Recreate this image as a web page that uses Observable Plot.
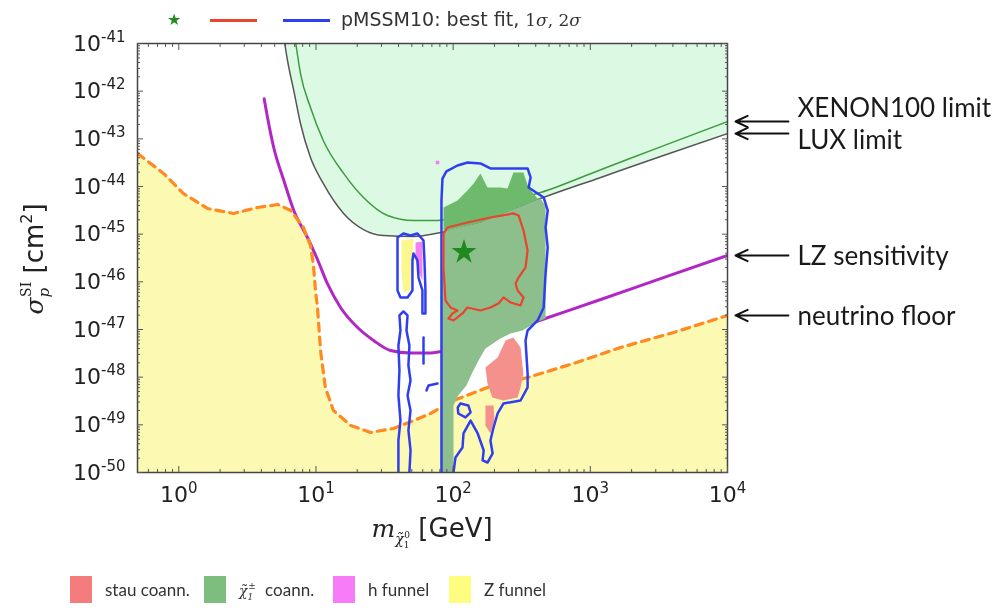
<!DOCTYPE html>
<html><head><meta charset="utf-8">
<script src="https://cdn.jsdelivr.net/npm/d3@7"></script>
<script src="https://cdn.jsdelivr.net/npm/@observablehq/plot@0.6"></script>
<style>
body{margin:0;background:#fff;}
#wrap{position:relative;width:998px;height:608px;overflow:hidden;background:#fff}
#top{position:relative;height:35px}
#chart{height:520px}
#bottom{position:relative;height:53px}
.abs{position:absolute}
.ln{position:absolute;height:3px}
.lt{position:absolute;font-family:"DejaVu Sans";font-size:19px;color:#333;white-space:nowrap;line-height:19px}
.serif{font-family:"DejaVu Serif"}
.sw{position:absolute;width:22px;height:27px;top:21px}
.lg{position:absolute;top:24px;font-family:Lato;font-size:17px;color:#333;white-space:nowrap;line-height:22px}
</style></head><body>
<div id="wrap"><div id="top"></div><div id="chart"></div><div id="bottom"></div></div>
<script>
// ---------------- data ----------------
const xDomain = [0.5, 1e4];
const yDomain = [1e-50, 1e-41];
const xMajor = [1, 10, 100, 1000, 10000];
const yMajor = [1e-50,1e-49,1e-48,1e-47,1e-46,1e-45,1e-44,1e-43,1e-42,1e-41];

// LUX limit (grey)
const luxMass  = [5.92, 6.20, 6.89, 7.71, 9.12, 11.3, 15.9, 22.2, 31.1, 51.4, 80.9, 158, 434, 1190, 3250, 10000];
const luxSigma = [1e-41, 4.40e-42, 1.03e-42, 2.10e-43, 4.06e-44, 1.16e-44, 2.72e-45, 1.25e-45, 9.38e-46, 8.93e-46, 1.08e-45, 1.76e-45, 5.60e-45, 1.55e-44, 4.27e-44, 1.29e-43];
// XENON100 limit (green)
const xenonMass  = [7.13, 7.71, 9.12, 11.3, 15.9, 22.2, 33.2, 51.4, 76.9, 158, 434, 1190, 3250, 10000];
const xenonSigma = [1e-41, 2.35e-42, 4.54e-43, 9.23e-44, 1.88e-44, 5.88e-45, 2.47e-45, 1.94e-45, 1.94e-45, 3.63e-45, 7.48e-45, 2.25e-44, 6.78e-44, 2.31e-43];
// LZ sensitivity (magenta)
const lzMass  = [4.19, 4.43, 4.92, 5.83, 6.89, 8.67, 10.26, 12.1, 15.1, 20.1, 26.3, 34.9, 48.9, 68.4, 95.6, 158, 386, 1190, 3250, 10000];
const lzSigma = [6.92e-43, 2.84e-43, 6.58e-44, 1.34e-44, 3.14e-45, 8.51e-46, 2.94e-46, 9.23e-47, 2.90e-47, 1.10e-47, 5.89e-48, 3.63e-48, 3.22e-48, 3.22e-48, 3.81e-48, 5.61e-48, 1.40e-47, 4.26e-47, 1.17e-46, 3.57e-46];
// neutrino floor (orange dashed, yellow below)
const nuMass  = [0.5, 0.774, 1.08, 1.62, 2.51, 3.75, 5.27, 6.55, 8.11, 9.12, 9.59, 9.92, 10.26, 10.8, 11.7, 13.4, 17.9, 25.0, 36.7, 51.4, 68.4, 100.6, 178, 349, 755, 1662, 4044, 10000];
const nuSigma = [4.93e-44, 1.88e-44, 7.13e-45, 3.46e-45, 2.72e-45, 3.63e-45, 4.19e-45, 3.14e-45, 1.38e-45, 5.79e-46, 2.20e-46, 6.59e-47, 2.90e-47, 3.63e-48, 6.08e-49, 2.00e-49, 9.70e-50, 6.92e-50, 8.39e-50, 1.23e-49, 1.73e-49, 3.24e-49, 6.08e-49, 9.85e-49, 1.94e-48, 4.20e-48, 8.65e-48, 1.97e-47];

// pMSSM10 2-sigma contour (blue), main piece
const c2Mass  = [82.2, 82.2, 82.2, 82.2, 83.6, 89.3, 107.6, 127.4, 158, 187, 221, 276, 349, 367, 355, 413, 457, 489, 472, 489, 472, 457, 413, 349, 337, 349, 349, 310, 233, 211, 197, 187, 194, 178, 164, 167, 151, 134, 119, 117, 104, 100.6];
const c2Sigma = [1e-50, 3.24e-49, 4.06e-47, 5.08e-45, 1.47e-44, 2.07e-44, 2.76e-44, 3.19e-44, 3.04e-44, 2.39e-44, 2.39e-44, 2.39e-44, 2.39e-44, 1.55e-44, 9.53e-45, 7.13e-45, 5.88e-45, 3.14e-45, 1.38e-45, 5.26e-46, 1.50e-46, 2.90e-47, 1.55e-47, 9.53e-48, 5.89e-48, 1.19e-48, 6.08e-49, 3.24e-49, 2.81e-49, 1.73e-49, 8.80e-50, 4.70e-50, 2.51e-50, 1.62e-50, 1.79e-50, 2.90e-50, 6.59e-50, 1.23e-49, 6.59e-50, 3.35e-50, 2.07e-50, 1e-50];
// 2-sigma: funnel loop
const c2LoopMass  = [39.3, 39.3, 39.3, 41.3, 46.5, 50.5, 50.5, 51.4, 54.9, 55.9, 59.7, 59.7, 62.8, 62.8, 61.8, 60.8, 54.9, 48.9, 43.4, 39.3];
const c2LoopSigma = [8.51e-46, 2.20e-46, 6.59e-47, 4.70e-47, 4.70e-47, 6.59e-47, 2.81e-46, 3.94e-46, 2.81e-46, 1.23e-46, 6.59e-47, 2.17e-47, 2.17e-47, 6.59e-47, 2.81e-46, 7.36e-46, 1.03e-45, 9.38e-46, 1.03e-45, 8.51e-46];
// 2-sigma: chain of small loops below the funnel
const c2ChainMass  = [39.9, 39.9, 41.3, 39.9, 40.6, 39.9, 41.3, 40.6, 43.4, 46.5, 45.7, 48.0, 47.2, 48.9, 46.5, 48.9, 47.2, 48.9, 48.0];
const c2ChainSigma = [1e-50, 4.70e-50, 1.23e-49, 4.13e-49, 1.38e-48, 4.62e-48, 9.53e-48, 1.97e-47, 2.39e-47, 1.97e-47, 9.53e-48, 4.62e-48, 1.76e-48, 8.53e-49, 4.13e-49, 2.00e-49, 7.62e-50, 2.90e-50, 1e-50];
const c2BarMass  = [60.8, 60.8];
const c2BarSigma = [6.80e-48, 1.94e-48];
const c2HookMass  = [76.9, 66.1, 63.9];
const c2HookSigma = [7.37e-49, 6.70e-49, 5.26e-49];
const c2RingMass  = [113, 129, 134, 123, 109, 108, 113];
const c2RingSigma = [2.81e-49, 2.55e-49, 1.82e-49, 1.43e-49, 1.73e-49, 2.31e-49, 2.81e-49];

// pMSSM10 1-sigma contour (red)
const c1Mass  = [85.1, 91.0, 127, 187, 276, 300, 326, 349, 337, 300, 285, 295, 326, 310, 262, 233, 214, 187, 158, 127, 117, 100.6, 92.5, 98.9, 107.6, 95.6, 87.9, 85.1, 85.1];
const c1Sigma = [1.03e-45, 1.38e-45, 1.76e-45, 2.24e-45, 2.72e-45, 2.47e-45, 1.19e-45, 4.55e-46, 2.00e-46, 1.23e-46, 9.23e-47, 6.59e-47, 4.70e-47, 3.19e-47, 3.69e-47, 4.70e-47, 3.52e-47, 2.90e-47, 2.51e-47, 2.90e-47, 2.17e-47, 1.55e-47, 1.70e-47, 2.17e-47, 2.51e-47, 2.90e-47, 4.06e-47, 2.00e-46, 1.03e-45];

// best fit point
const bestMass = [120];
const bestSigma = [4.2e-46];

// chargino co-annihilation region (green), above and below the LUX line
const chiUpMass  = [85.1, 107.6, 127, 141, 158, 178, 221, 249, 275, 325, 354, 412, 433, 158, 85.1];
const chiUpSigma = [3.63e-45, 5.08e-45, 8.25e-45, 1.16e-44, 1.88e-44, 9.53e-45, 9.53e-45, 9.08e-45, 1.97e-44, 1.97e-44, 9.53e-45, 5.60e-45, 5.60e-45, 1.76e-45, 1.14e-45];
const chiLoMass  = [85.1, 158, 433, 472, 472, 399, 320, 262, 221, 172, 153, 138, 125, 109, 100.6, 100.6, 82.2, 82.2];
const chiLoSigma = [1.14e-45, 1.76e-45, 5.60e-45, 4.0e-45, 1.70e-47, 1.40e-47, 9.53e-48, 8.25e-48, 6.48e-48, 4.00e-48, 2.24e-48, 1.25e-48, 6.70e-49, 4.13e-49, 2.55e-49, 1e-50, 1e-50, 4.06e-47];
// stau co-annihilation region
const stauMass  = [241, 275, 310, 325, 310, 295, 233, 193, 178, 172, 211];
const stauSigma = [5.89e-48, 6.80e-48, 4.20e-48, 1.19e-48, 6.08e-49, 3.75e-49, 3.24e-49, 3.75e-49, 7.37e-49, 1.60e-48, 2.59e-48];
const stau2Mass  = [172, 197, 200, 187, 172];
const stau2Sigma = [2.55e-49, 2.55e-49, 1.23e-49, 6.59e-50, 9.70e-50];
// Z funnel and h funnel inside the left loop
const zfMass  = [42.0, 51.4, 50.5, 48.9, 43.4, 42.0];
const zfSigma = [7.36e-46, 8.11e-46, 3.09e-46, 6.59e-47, 5.98e-47, 1.73e-46];
const hfMass  = [53.2, 59.7, 59.7, 54.9, 53.2];
const hfSigma = [6.68e-46, 7.01e-46, 1.07e-46, 1.90e-46, 3.57e-46];
const hDotMass = [76.9];
const hDotSigma = [3.19e-44];

// annotations
const annLabels = ["XENON100 limit", "LUX limit", "LZ sensitivity", "neutrino floor"];
const annSigma = [xenonSigma[xenonSigma.length-1], luxSigma[luxSigma.length-1], lzSigma[lzSigma.length-1], nuSigma[nuSigma.length-1]];
const annTextDy = [-13, 7, 1, 1];

// legends
const topLegendText = "pMSSM10: best fit, ";
const legendLabels = ["stau coann.", "coann.", "h funnel", "Z funnel"];
const legendColors = ["#f47c7c", "#7dbd7d", "#f77cf7", "#fdfd80"];

// ---------------- helpers ----------------
const P = (ms, ss) => ms.map((x, i) => ({x, y: ss[i]}));
const xMinor = [], yMinor = [];
for (const d of [0.1, 1, 10, 100, 1000]) for (let k = 2; k < 10; k++) { const v = d * k; if (v > 0.5 && v < 1e4) xMinor.push(v); }
for (let e = -50; e < -41; e++) for (let k = 2; k < 10; k++) yMinor.push(k * Math.pow(10, e));

const ann = annLabels.map((label, i) => ({label, s: annSigma[i]}));
const arrowTail = 2.78, arrowHead = 1.144;

const C = {
  yellow: "#fcf9b3", mint: "#dcf9e3", lux: "#555555", xenon: "#3d9c3d", lz: "#b326c6", nu: "#ff8a1f",
  chiUp: "#6dba6d", chiLo: "#8dbf8d", stau: "#f4918c", blue: "#2f3ff0", red: "#e8442e", star: "#1f8a1f"
};

const chart = Plot.plot({
  width: 998, height: 520,
  marginLeft: 137, marginRight: 271, marginTop: 8, marginBottom: 83,
  x: {type: "log", domain: xDomain},
  y: {type: "log", domain: yDomain},
  style: {fontFamily: "DejaVu Sans", fontSize: "22px", color: "#222", background: "transparent", overflow: "visible"},
  marks: [
    Plot.areaY(P(nuMass, nuSigma), {x: "x", y1: yDomain[0], y2: "y", fill: C.yellow, clip: true}),
    Plot.areaY(P(luxMass, luxSigma), {x: "x", y1: "y", y2: yDomain[1], fill: C.mint, clip: true}),
    Plot.line(P(luxMass, luxSigma), {x: "x", y: "y", stroke: C.lux, strokeWidth: 1.5, curve: "monotone-x", clip: true}),
    Plot.line(P(xenonMass, xenonSigma), {x: "x", y: "y", stroke: C.xenon, strokeWidth: 1.5, curve: "monotone-x", clip: true}),
    Plot.line(P(lzMass, lzSigma), {x: "x", y: "y", stroke: C.lz, strokeWidth: 3, curve: "monotone-x", clip: true}),
    Plot.line(P(nuMass, nuSigma), {x: "x", y: "y", stroke: C.nu, strokeWidth: 3.2, strokeDasharray: "8,6", clip: true}),
    Plot.line(P(chiUpMass, chiUpSigma), {x: "x", y: "y", fill: C.chiUp, stroke: "none", mixBlendMode: "multiply", clip: true}),
    Plot.line(P(chiLoMass, chiLoSigma), {x: "x", y: "y", fill: C.chiLo, stroke: "none", mixBlendMode: "multiply", clip: true}),
    Plot.line(P(stauMass, stauSigma), {x: "x", y: "y", fill: C.stau, stroke: "none", mixBlendMode: "multiply", clip: true}),
    Plot.line(P(stau2Mass, stau2Sigma), {x: "x", y: "y", fill: C.stau, stroke: "none", mixBlendMode: "multiply", clip: true}),
    Plot.line(P(zfMass, zfSigma), {x: "x", y: "y", fill: "#fbf78c", stroke: "none", clip: true}),
    Plot.line(P(hfMass, hfSigma), {x: "x", y: "y", fill: "#f280f0", stroke: "none", clip: true}),
    Plot.dot(P(hDotMass, hDotSigma), {x: "x", y: "y", symbol: "square", r: 2, fill: "#f280f0", stroke: "none"}),
    Plot.line(P(c2Mass, c2Sigma), {x: "x", y: "y", stroke: C.blue, strokeWidth: 2.5, clip: true}),
    Plot.line(P(c2LoopMass, c2LoopSigma), {x: "x", y: "y", stroke: C.blue, strokeWidth: 2.5, clip: true}),
    Plot.line(P(c2ChainMass, c2ChainSigma), {x: "x", y: "y", stroke: C.blue, strokeWidth: 2.5, clip: true}),
    Plot.line(P(c2BarMass, c2BarSigma), {x: "x", y: "y", stroke: C.blue, strokeWidth: 2.5, clip: true}),
    Plot.line(P(c2HookMass, c2HookSigma), {x: "x", y: "y", stroke: C.blue, strokeWidth: 2.5, clip: true}),
    Plot.line(P(c2RingMass, c2RingSigma), {x: "x", y: "y", stroke: C.blue, strokeWidth: 2.5, clip: true}),
    Plot.line(P(c1Mass, c1Sigma), {x: "x", y: "y", stroke: C.red, strokeWidth: 2.2, clip: true}),
    Plot.dot(P(bestMass, bestSigma), {x: "x", y: "y", symbol: "star", r: 7.8, fill: C.star, stroke: "none"}),
    Plot.frame({stroke: "#444", strokeWidth: 1.5}),
    // inward ticks on all sides
    Plot.axisX({ticks: xMajor, anchor: "bottom", tickSize: -6, fill: "none", stroke: "#555"}),
    Plot.axisX({ticks: xMinor, anchor: "bottom", tickSize: -3, fill: "none", stroke: "#555"}),
    Plot.axisX({ticks: xMajor, anchor: "top", tickSize: -6, fill: "none", stroke: "#555"}),
    Plot.axisX({ticks: xMinor, anchor: "top", tickSize: -3, fill: "none", stroke: "#555"}),
    Plot.axisY({ticks: yMajor, anchor: "left", tickSize: -6, fill: "none", stroke: "#555"}),
    Plot.axisY({ticks: yMinor, anchor: "left", tickSize: -3, fill: "none", stroke: "#555"}),
    Plot.axisY({ticks: yMajor, anchor: "right", tickSize: -6, fill: "none", stroke: "#555"}),
    Plot.axisY({ticks: yMinor, anchor: "right", tickSize: -3, fill: "none", stroke: "#555"}),
    // tick labels
    Plot.axisX({ticks: xMajor, anchor: "bottom", tickSize: 0, tickPadding: 14, tickFormat: d => String(Math.round(Math.log10(d))), label: null, fill: "#222"}),
    Plot.axisY({ticks: yMajor, anchor: "left", tickSize: 0, tickPadding: 12, tickFormat: d => String(Math.round(Math.log10(d))), label: null, fill: "#222"}),
    // annotations on the right
    Plot.arrow(ann, {x1: () => xDomain[1] * arrowTail, x2: () => xDomain[1] * arrowHead, y1: "s", y2: "s", stroke: "#111", strokeWidth: 2, headLength: 10, headAngle: 50}),
    ...ann.map((a, i) => Plot.text([a], {x: () => xDomain[1], y: "s", text: "label", dx: 70, dy: annTextDy[i], textAnchor: "start", lineAnchor: "middle", fontFamily: "Lato", fontSize: 26, fill: "#1a1a1a"}))
  ]
});
document.getElementById("chart").appendChild(chart);

// ----- superscript tick labels and math axis titles -----
const svgSel = d3.select(chart);
svgSel.selectAll('g[aria-label="x-axis tick label"] text, g[aria-label="y-axis tick label"] text').each(function () {
  const t = d3.select(this); const e = t.text(); t.text("");
  t.append("tspan").text("10");
  t.append("tspan").attr("font-size", 15).attr("dy", -9).text(e);
});
const yl = svgSel.append("text").attr("transform", "translate(43,224) rotate(-90)").attr("text-anchor", "middle").attr("fill", "#222");
yl.append("tspan").attr("font-family", "DejaVu Serif").attr("font-style", "italic").attr("font-size", 25).text("σ");
yl.append("tspan").attr("font-family", "DejaVu Serif").attr("font-style", "italic").attr("font-size", 15).attr("dy", 6).text("p");
yl.append("tspan").attr("font-family", "DejaVu Serif").attr("font-size", 14).attr("dx", -9).attr("dy", -18).text("SI");
yl.append("tspan").attr("font-family", "DejaVu Sans").attr("font-size", 26).attr("dy", 12).text(" [cm");
yl.append("tspan").attr("font-family", "DejaVu Sans").attr("font-size", 16).attr("dy", -11).text("2");
yl.append("tspan").attr("font-family", "DejaVu Sans").attr("font-size", 26).attr("dy", 11).text("]");

const xl = svgSel.append("text").attr("x", 432).attr("y", 502).attr("text-anchor", "middle").attr("fill", "#222");
xl.append("tspan").attr("font-family", "DejaVu Serif").attr("font-style", "italic").attr("font-size", 25).text("m");
xl.append("tspan").attr("font-family", "DejaVu Serif").attr("font-style", "italic").attr("font-size", 14).attr("dy", 7).text("χ̃");
xl.append("tspan").attr("font-family", "DejaVu Serif").attr("font-size", 9).attr("dy", 4).text("1");
xl.append("tspan").attr("font-family", "DejaVu Serif").attr("font-size", 9).attr("dx", -5).attr("dy", -10).text("0");
xl.append("tspan").attr("font-family", "DejaVu Sans").attr("font-size", 26).attr("dy", -1).text(" [GeV]");

// ----- top legend -----
const topL = d3.select("#top");
topL.append("div").attr("class", "abs").style("left", "167px").style("top", "12px").style("font-size", "16px").style("line-height", "16px").style("color", C.star).text("★");
topL.append("div").attr("class", "ln").style("left", "210px").style("width", "47px").style("top", "19px").style("background", C.red);
topL.append("div").attr("class", "ln").style("left", "283px").style("width", "47px").style("top", "19px").style("background", C.blue);
const lt = topL.append("div").attr("class", "lt").style("left", "341px").style("top", "10px");
lt.append("span").text(topLegendText);
const ls = lt.append("span").attr("class", "serif").style("font-size", "17px");
ls.append("span").text("1"); ls.append("i").text("σ"); ls.append("span").text(", 2"); ls.append("i").text("σ");

// ----- bottom legend -----
const botL = d3.select("#bottom");
const swX = [70, 204, 333, 449];
legendLabels.forEach((lab, i) => {
  botL.append("div").attr("class", "sw").style("left", swX[i] + "px").style("background", legendColors[i]);
  const t = botL.append("div").attr("class", "lg").style("left", (swX[i] + 35) + "px");
  if (i === 1) {
    const m = t.append("span").style("font-family", "DejaVu Serif").style("font-style", "italic").style("font-size", "14px").style("position", "relative");
    m.append("span").text("χ̃");
    m.append("span").style("font-size", "9px").style("position", "relative").style("top", "4px").text("1");
    m.append("span").style("font-size", "9px").style("position", "relative").style("top", "-7px").style("left", "-5px").text("±");
    t.append("span").text(" " + lab);
  } else t.text(lab);
});
</script>
</body></html>
